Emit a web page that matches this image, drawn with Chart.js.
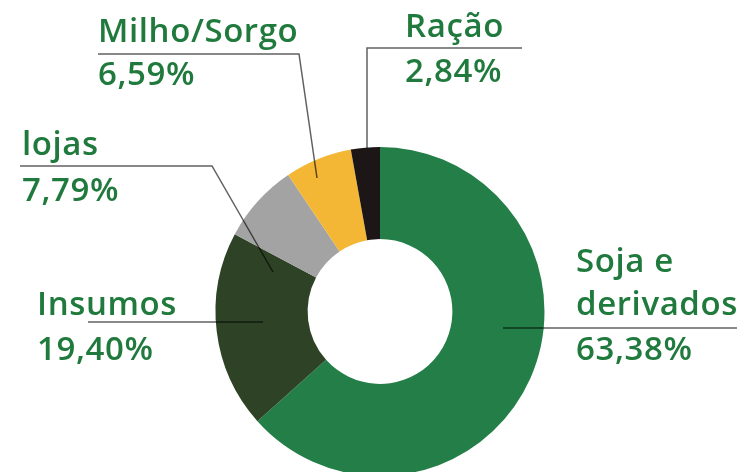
<!DOCTYPE html>
<html>
<head>
<meta charset="utf-8">
<script src="https://cdn.jsdelivr.net/npm/chart.js@4/dist/chart.umd.min.js"></script>
<style>
  html, body { margin: 0; padding: 0; background: #ffffff; overflow: hidden; }
  #wrap { position: relative; width: 745px; height: 480px; }
</style>
</head>
<body>
<div id="wrap"><canvas id="c"></canvas></div>
<script>
const categories = ['Soja e derivados', 'Insumos', 'lojas', 'Milho/Sorgo', 'Ração'];
const values = [63.38, 19.40, 7.79, 6.59, 2.84];
const labelLines = [['Soja e', 'derivados'], ['Insumos'], ['lojas'], ['Milho/Sorgo'], ['Ração']];
const colors = ['#237f47', '#2e4326', '#a3a3a3', '#f3b735', '#1c1617'];

const TEXT_COLOR = '#217a3d';
const FONT = '600 33px "Open Sans", "Noto Sans", sans-serif';

// Annotation layout: name baselines, value baseline, text x, leader polyline
const annot = [
  { x: 576, names: [272, 315], val: 360, line: [[737, 328], [503, 328]] },
  { x: 37,  names: [315], val: 360, line: [[88, 322], [263, 322]] },
  { x: 22,  names: [155], val: 201, line: [[20, 166], [212, 166], [273, 272]] },
  { x: 98,  names: [42],  val: 85,  line: [[98, 54], [299, 54], [317, 178]] },
  { x: 405, names: [37],  val: 82,  line: [[522, 48], [367, 48], [367, 148]] }
];

const fmt = v => v.toLocaleString('pt-BR', { minimumFractionDigits: 2, maximumFractionDigits: 2 }) + '%';

const labelPlugin = {
  id: 'labels',
  afterDraw(chart) {
    const ctx = chart.ctx;
    ctx.save();
    annot.forEach((a, i) => {
      ctx.beginPath();
      a.line.forEach((p, k) => k === 0 ? ctx.moveTo(p[0], p[1]) : ctx.lineTo(p[0], p[1]));
      ctx.strokeStyle = 'rgba(0,0,0,0.62)';
      ctx.lineWidth = 1.5;
      ctx.stroke();
      ctx.fillStyle = TEXT_COLOR;
      ctx.font = FONT;
      if ('letterSpacing' in ctx) ctx.letterSpacing = '0.6px';
      ctx.textAlign = 'left';
      ctx.textBaseline = 'alphabetic';
      labelLines[i].forEach((t, k) => ctx.fillText(t, a.x, a.names[k]));
      ctx.fillText(fmt(values[i]), a.x, a.val);
      if ('letterSpacing' in ctx) ctx.letterSpacing = '0px';
    });
    ctx.restore();
  }
};

new Chart(document.getElementById('c'), {
  type: 'doughnut',
  data: {
    labels: categories,
    datasets: [{
      data: values,
      backgroundColor: colors,
      borderWidth: 0,
      hoverOffset: 0
    }]
  },
  options: {
    responsive: true,
    maintainAspectRatio: false,
    animation: false,
    cutout: '44%',
    layout: { padding: { left: 215, right: 200, top: 147, bottom: 4 } },
    plugins: { legend: { display: false }, tooltip: { enabled: false } }
  },
  plugins: [labelPlugin]
});
</script>
</body>
</html>
